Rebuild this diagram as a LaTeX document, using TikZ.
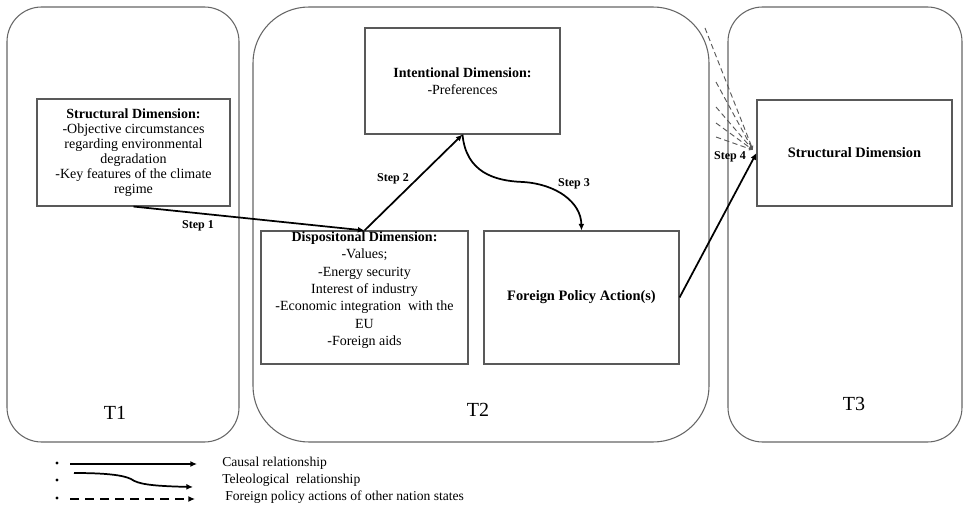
\documentclass[tikz,border=0pt]{standalone}
\usepackage{fontspec}
\setmainfont{Liberation Serif}
\usetikzlibrary{arrows.meta}
\begin{document}
\begin{tikzpicture}[x=0.75pt,y=-0.75pt,
  frame/.style={draw=black!60, line width=0.8pt},
  dimbox/.style={draw=black!65, line width=0.8pt, inner sep=0pt, rectangle, align=center},
  body/.style={font=\fontsize{10.5}{13}\selectfont, align=center, inner sep=0pt},
  steplabel/.style={font=\fontsize{9}{10}\selectfont\bfseries, inner sep=0pt},
  tlabel/.style={font=\fontsize{15}{17}\selectfont, inner sep=0pt},
  legtext/.style={font=\fontsize{10.2}{12}\selectfont, inner sep=0pt, anchor=west},
  causal/.style={line width=1.3pt, -{Latex[length=5pt,width=4.5pt]}},
  other/.style={draw=black!65, dash pattern=on 4pt off 2.5pt, line width=0.7pt, -{Latex[length=3pt,width=3pt]}},
  legdash/.style={line width=1.3pt, dash pattern=on 6.75pt off 4.5pt, -{Latex[length=5pt,width=4.5pt]}},
  bullet/.style={circle, fill=black, inner sep=0pt, minimum size=2.6pt},
]
\useasboundingbox (0,0) rectangle (965,506);

% time frames
\draw[frame, rounded corners=26pt] (7,7) rectangle (239,442);
\draw[frame, rounded corners=42pt] (253,7) rectangle (709,442);
\draw[frame, rounded corners=26pt] (728,7) rectangle (962,442);

\node[tlabel] (t1) at (115,413) {T1};
\node[tlabel] (t2) at (478,410) {T2};
\node[tlabel] (t3) at (854,404) {T3};

% boxes
\node[dimbox, minimum width=144.75pt, minimum height=80.25pt,
      font=\fontsize{10.5}{11.3}\selectfont] (sd1) at (133.5,152.5)
  {\textbf{Structural Dimension:}\\-Objective circumstances\\regarding environmental\\degradation\\-Key features of the climate\\regime};

\node[dimbox, minimum width=146.25pt, minimum height=79.5pt,
      font=\fontsize{10.5}{12.75}\selectfont] (int) at (462.5,81)
  {\textbf{Intentional Dimension:}\\-Preferences};

\node[dimbox, minimum width=155.25pt, minimum height=99.75pt] (disp) at (364.5,297.5) {};
\node[body, anchor=north] (disptext) at (364.5,231.5)
  {\textbf{Dispositonal Dimension:}\\-Values;\\-Energy security\\Interest of industry\\-Economic integration\ \ with the\\EU\\-Foreign aids};

\node[dimbox, minimum width=146.25pt, minimum height=99.75pt,
      font=\fontsize{10.8}{12}\selectfont\bfseries] (fpa) at (581.5,297.5)
  {Foreign Policy Action(s)};

\node[dimbox, minimum width=146.25pt, minimum height=79.5pt,
      font=\fontsize{10.8}{12}\selectfont\bfseries] (sd3) at (854.5,153)
  {Structural Dimension};

% foreign policy actions of other nation states
\coordinate (conv) at (753,150);
\coordinate (d1) at (705,28);
\coordinate (d2) at (716,82);
\coordinate (d3) at (716,107);
\coordinate (d4) at (716,123);
\coordinate (d5) at (716,137);
\foreach \d in {d1,d2,d3,d4,d5} \draw[other] (\d) -- (conv);

% steps
\draw[causal] (sd1.south) -- (disp.north);
\draw[causal] (disp.north) -- (int.south);
\coordinate (s3mid) at (523,182);
\draw[causal] (int.south) .. controls (466,172) and (494,181) .. (s3mid)
  .. controls (556,184) and (581,202) .. (fpa.north);
\draw[causal] (fpa.east) -- (sd3.west);

\node[steplabel] (s1) at (198,226) {Step 1};
\node[steplabel] (s2) at (393,179) {Step 2};
\node[steplabel] (s3) at (574,184) {Step 3};
\node[steplabel] (s4) at (730,157) {Step 4};

% legend
\node[bullet] (b1) at (57,463) {};
\node[bullet] (b2) at (57,480) {};
\node[bullet] (b3) at (57,498) {};
\coordinate (l1a) at (70,464);
\coordinate (l1b) at (197,464);
\coordinate (l2a) at (74,473);
\coordinate (l2b) at (193,487);
\coordinate (l2m) at (131,479);
\coordinate (l3a) at (70,499);
\coordinate (l3b) at (195,499);
\draw[causal] (l1a) -- (l1b);
\draw[causal] (l2a) .. controls (105,473) and (123,475) .. (l2m)
  .. controls (138,484) and (150,486) .. (l2b);
\draw[legdash] (l3a) -- (l3b);
\node[legtext] (c1) at (222,463) {Causal relationship};
\node[legtext] (c2) at (222,480) {Teleological\ \ relationship};
\node[legtext] (c3) at (225,497) {Foreign policy actions of other nation states};
\end{tikzpicture}
\end{document}
